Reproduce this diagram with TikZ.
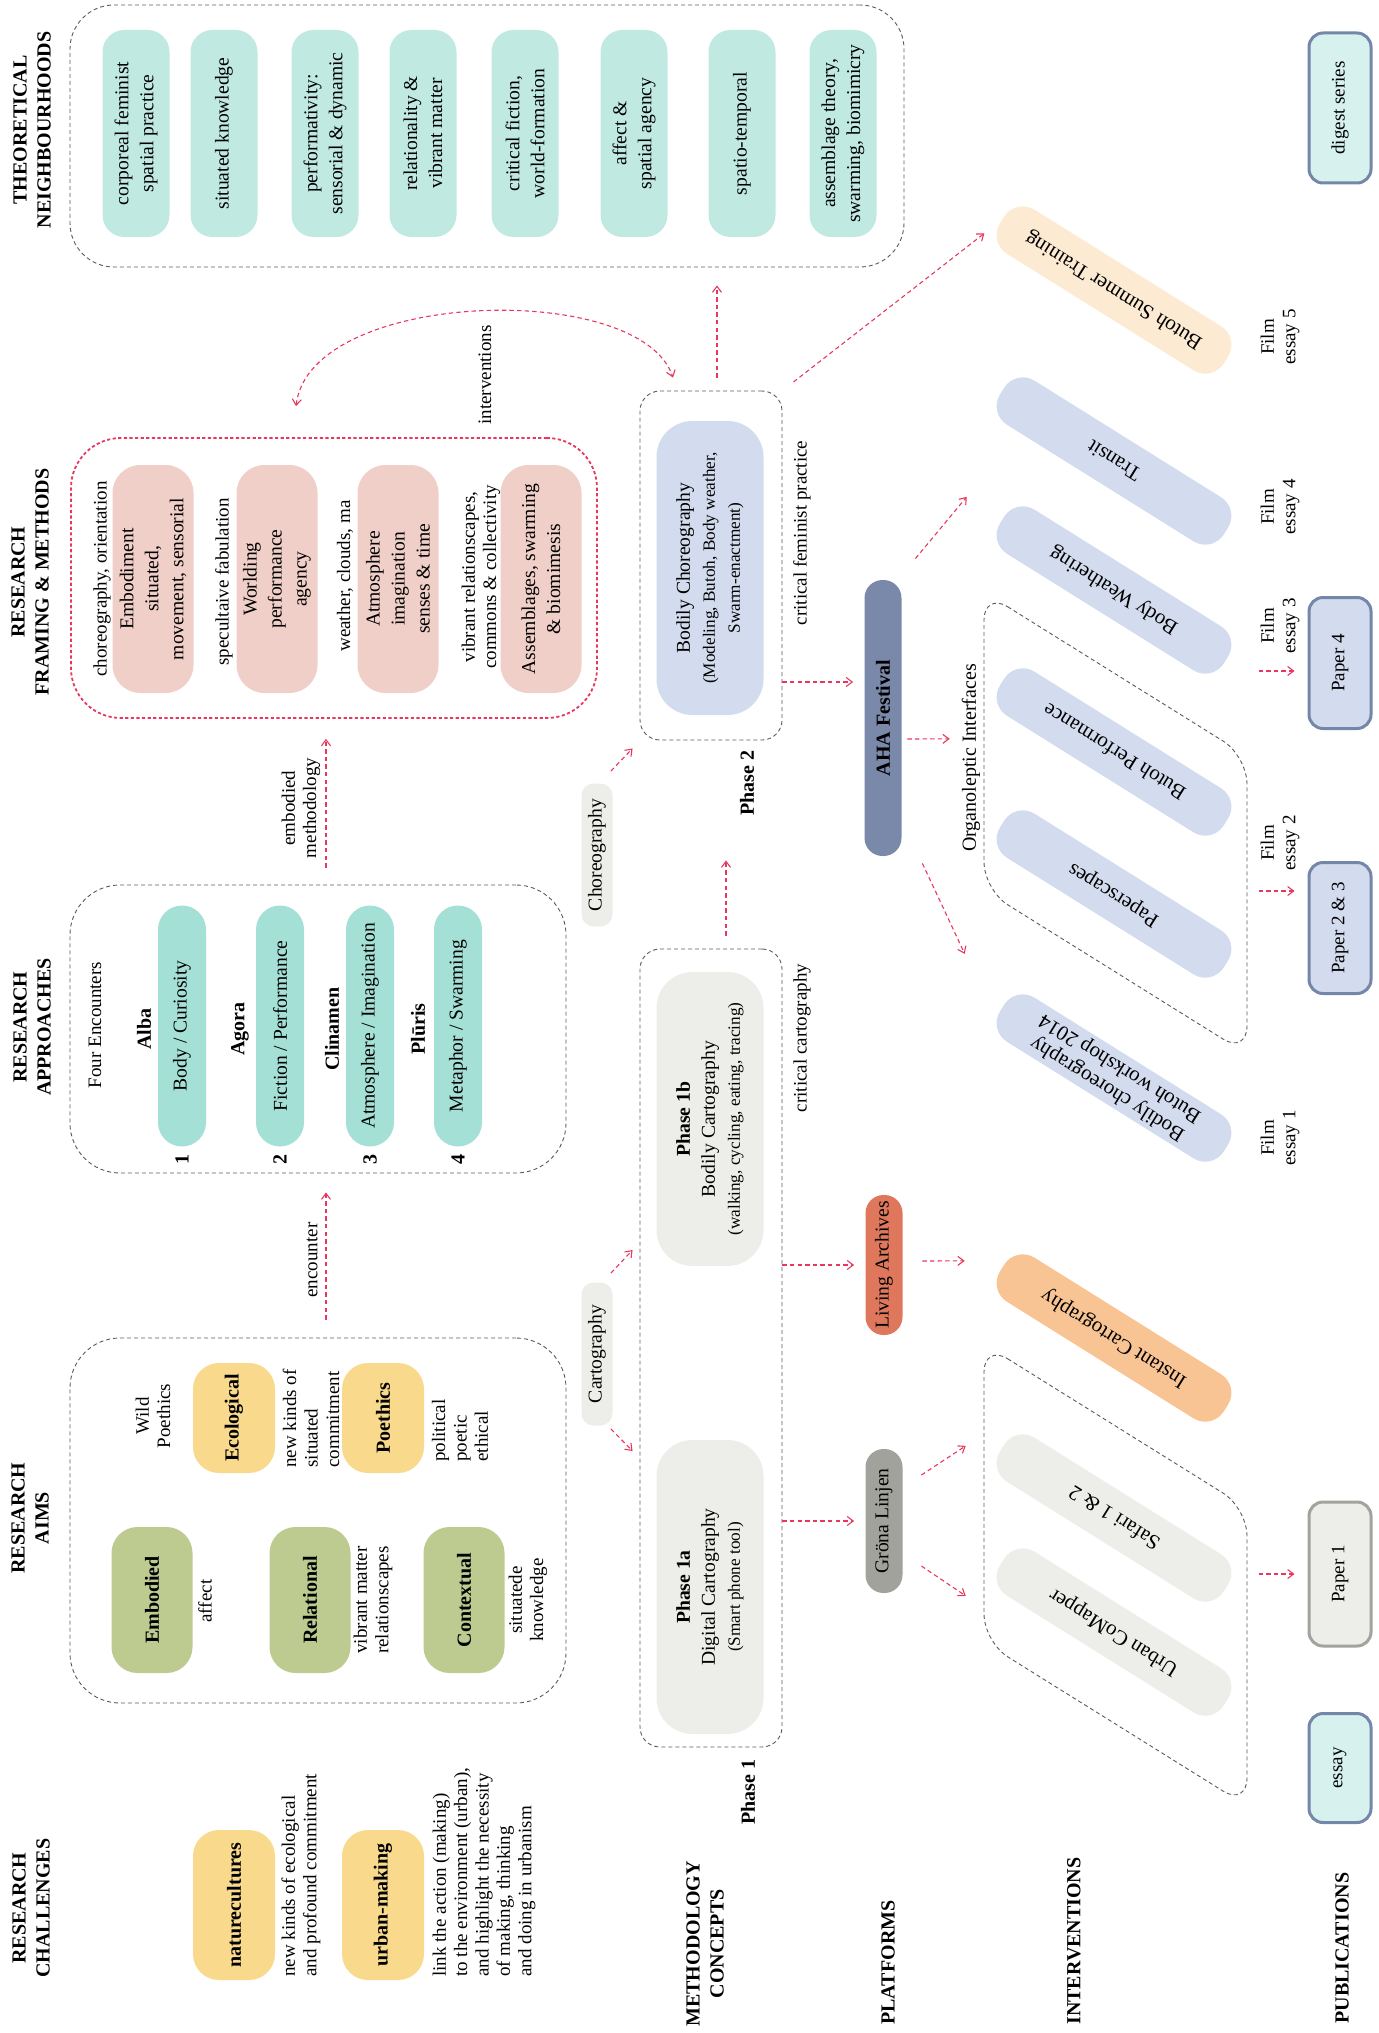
\documentclass[tikz,border=0pt]{standalone}
\usepackage{fontspec}
\setmainfont{Liberation Serif}
\usepackage{xcolor}
\usepackage{tikz}
\usetikzlibrary{arrows.meta}

\definecolor{yellowc}{HTML}{F9D98C}
\definecolor{greenc}{HTML}{BDCB91}
\definecolor{tealc}{HTML}{A5E0D6}
\definecolor{theoc}{HTML}{C0E9E2}
\definecolor{pinkc}{HTML}{F0CFC8}
\definecolor{greyc}{HTML}{EDEDE9}
\definecolor{bluec}{HTML}{D3DCEE}
\definecolor{ahac}{HTML}{7A88AA}
\definecolor{livc}{HTML}{DE775B}
\definecolor{gronac}{HTML}{A0A29B}
\definecolor{peachc}{HTML}{FCEAD3}
\definecolor{orangec}{HTML}{F9C494}
\definecolor{cyanc}{HTML}{D6F1EE}
\definecolor{pubblue}{HTML}{7587A8}
\definecolor{pubgrey}{HTML}{A2A39D}
\definecolor{arrowred}{HTML}{E8375F}
\definecolor{boxgrey}{HTML}{5A5A5A}

\newcommand{\txtfont}{\fontsize{9.5}{10.7}\selectfont}
\newcommand{\hdfont}{\fontsize{10}{12}\selectfont\bfseries}
\newcommand{\pilfont}{\fontsize{9.8}{12.5}\selectfont}
\newcommand{\subfont}{\fontsize{8.6}{11}\selectfont}
\newcommand{\intfont}{\fontsize{10.5}{12}\selectfont}

\tikzset{
  >={Straight Barb[length=3pt,width=4.5pt]},
  header/.style={rotate=90, font=\hdfont, align=center, inner sep=0pt},
  note/.style={rotate=90, font=\txtfont, align=center, inner sep=0pt},
  leftnote/.style={note, align=left, anchor=west},
  pillbase/.style={rotate=90, align=center, inner sep=1pt},
  challpill/.style={pillbase, fill=yellowc, rounded corners=13pt, minimum width=75pt, minimum height=41pt, font=\hdfont},
  aimpill/.style={pillbase, fill=greenc, rounded corners=13pt, minimum width=73pt, minimum height=40.5pt, font=\hdfont},
  wildpill/.style={pillbase, fill=yellowc, rounded corners=13pt, minimum width=55pt, minimum height=41pt, font=\hdfont},
  apppill/.style={pillbase, fill=tealc, rounded corners=12pt, minimum width=120.5pt, minimum height=24pt, font=\pilfont},
  framepill/.style={pillbase, fill=pinkc, rounded corners=14pt, minimum width=114pt, minimum height=40.5pt, font=\pilfont},
  theopill/.style={pillbase, fill=theoc, rounded corners=11pt, minimum width=103.5pt, minimum height=33.5pt, font=\pilfont},
  phasepill/.style={pillbase, fill=#1, rounded corners=18pt, minimum width=147pt, minimum height=53.5pt, font=\pilfont},
  conceptpill/.style={pillbase, fill=greyc, rounded corners=6pt, minimum width=71.5pt, minimum height=15.5pt, font=\pilfont},
  platpill/.style={pillbase, fill=#1, rounded corners=9pt, minimum height=18.5pt, font=\pilfont},
  intpill/.style={rotate=148, fill=#1, rounded corners=11pt, minimum width=132pt, minimum height=26pt, align=center, inner sep=1pt, font=\intfont},
  pubbox/.style={pillbase, rounded corners=7pt, minimum height=31pt, line width=1.5pt, font=\txtfont},
  groupbox/.style={draw=boxgrey, dash pattern=on 2pt off 1.5pt, line width=0.45pt},
  redbox/.style={draw=arrowred, dash pattern=on 1.6pt off 1.2pt, line width=0.9pt},
  flow/.style={draw=arrowred, dash pattern=on 2.2pt off 1.6pt, line width=0.55pt, ->},
}

\begin{document}
\begin{tikzpicture}[x=0.5pt, y=-0.5pt]
  \useasboundingbox (0,0) rectangle (1378,2033);

  \node[groupbox, rounded corners=22pt, minimum width=417pt, minimum height=131pt] at (487, 136) (thbox) {};
  \node[redbox, rounded corners=25pt, minimum width=263pt, minimum height=140pt] at (334, 578) (framebox) {};
  \node[groupbox, rounded corners=25pt, minimum width=248pt, minimum height=144pt] at (318, 1029) (approbox) {};
  \node[groupbox, rounded corners=25pt, minimum width=248pt, minimum height=182.5pt] at (318, 1520.5) (aimsbox) {};
  \node[groupbox, rounded corners=10pt, minimum width=71pt, minimum height=174.5pt] at (711, 565.5) (ph2box) {};
  \node[groupbox, rounded corners=10pt, minimum width=71pt, minimum height=399pt] at (711, 1348) (ph1box) {};
  \draw[groupbox, rounded corners=14pt] (984, 592) -- (1247, 756) -- (1247, 1054) -- (984, 890) -- cycle;
  \draw[groupbox, rounded corners=14pt] (984, 1344) -- (1247, 1508) -- (1247, 1806) -- (984, 1642) -- cycle;

  \node[header] at (32, 130) (hdtheo) {THEORETICAL\\NEIGHBOURHOODS};
  \node[header] at (30, 582) (hdframe) {RESEARCH\\FRAMING \& METHODS};
  \node[header] at (32, 1027) (hdappr) {RESEARCH\\APPROACHES};
  \node[header] at (30, 1518) (hdaims) {RESEARCH\\AIMS};
  \node[header] at (31, 1908) (hdchall) {RESEARCH\\CHALLENGES};
  \node[header, anchor=west] at (705, 2027) (hdmeth) {METHODOLOGY\\CONCEPTS};
  \node[header, anchor=west] at (888, 2025) (hdplat) {PLATFORMS};
  \node[header, anchor=west] at (1074, 2025) (hdint) {INTERVENTIONS};
  \node[header, anchor=west] at (1342, 2024) (hdpub) {PUBLICATIONS};

  \node[theopill] at (136, 133.5) (th1) {corporeal feminist\\spatial practice};
  \node[theopill] at (224, 133.5) (th2) {situated knowledge};
  \node[theopill] at (325, 133.5) (th3) {performativity:\\sensorial \& dynamic};
  \node[theopill] at (423, 133.5) (th4) {relationality \&\\vibrant matter};
  \node[theopill] at (525, 133.5) (th5) {critical fiction,\\world-formation};
  \node[theopill] at (634, 133.5) (th6) {affect \&\\spatial agency};
  \node[theopill] at (742, 133.5) (th7) {spatio-temporal};
  \node[theopill] at (843, 133.5) (th8) {assemblage theory,\\swarming, biomimicry};

  \node[note] at (102, 579) (frn1) {choreography, orientation};
  \node[framepill] at (153, 579) (fr1) {Embodiment\\situated,\\movement, sensorial};
  \node[note] at (224, 582) (frn2) {specultaive fabulation};
  \node[framepill] at (277, 579) (fr2) {Worlding\\performance\\agency};
  \node[note] at (345, 576) (frn3) {weather, clouds, ma};
  \node[framepill] at (398, 579) (fr3) {Atmosphere\\imagination\\senses \& time};
  \node[note] at (481, 577) (frn4) {vibrant relationscapes,\\commons \& collectivity};
  \node[framepill] at (541, 579) (fr4) {Assemblages, swarming\\\& biomimesis};

  \node[note] at (95, 1025) (four) {Four Encounters};
  \node[note, font=\hdfont] at (144, 1029) (alba) {Alba};
  \node[apppill] at (182, 1026) (ap1) {Body / Curiosity};
  \node[note, font=\hdfont] at (182, 1159) (num1) {1};
  \node[note, font=\hdfont] at (240, 1029) (agora) {Agora};
  \node[apppill] at (280, 1026) (ap2) {Fiction / Performance};
  \node[note, font=\hdfont] at (280, 1159) (num2) {2};
  \node[note, font=\hdfont] at (332, 1029) (clin) {Clinamen};
  \node[apppill] at (370, 1026) (ap3) {Atmosphere / Imagination};
  \node[note, font=\hdfont] at (370, 1159) (num3) {3};
  \node[note, font=\hdfont] at (418, 1029) (pluris) {Plūris};
  \node[apppill] at (458, 1026) (ap4) {Metaphor / Swarming};
  \node[note, font=\hdfont] at (458, 1159) (num4) {4};

  \node[note] at (153, 1416) (wild) {Wild\\Poethics};
  \node[wildpill] at (234, 1418) (ecol) {Ecological};
  \node[leftnote] at (311, 1468) (ecoln) {new kinds of\\situated\\commitment};
  \node[wildpill] at (383, 1418) (poeth) {Poethics};
  \node[leftnote] at (460, 1462) (poethn) {political\\poetic\\ethical};
  \node[aimpill] at (152, 1600) (embod) {Embodied};
  \node[note] at (205, 1601) (affect) {affect};
  \node[aimpill] at (310, 1600) (relat) {Relational};
  \node[note] at (373, 1600) (relatn) {vibrant matter\\relationscapes};
  \node[aimpill] at (464, 1600) (context) {Contextual};
  \node[note] at (528, 1600) (contextn) {situatede\\knowledge};

  \node[challpill] at (234, 1905) (natc) {naturecultures};
  \node[leftnote] at (301, 1977) (natcn) {new kinds of ecological\\and profound commitment};
  \node[challpill] at (383, 1905) (urban) {urban-making};
  \node[leftnote] at (484, 1977) (urbann) {link the action (making)\\to the environment (urban),\\and highlight the necessity\\of making, thinking\\and doing in urbanism};

  \node[note] at (312, 1260) (encl) {encounter};
  \node[note] at (301, 808) (embl) {embodied\\methodology};
  \node[note] at (485, 375) (intl) {interventions};

  \node[phasepill=bluec] at (710, 568) (bodchor) {Bodily Choreography\\{\subfont(Modeling, Butoh, Body weather,}\\{\subfont Swarm-enactment)}};
  \node[note] at (802, 533) (cfp) {critical feminist practice};
  \node[note, font=\hdfont] at (747, 783) (ph2lab) {Phase 2};
  \node[conceptpill] at (597, 855) (chor) {Choreography};
  \node[phasepill=greyc] at (710, 1119) (ph1b) {\textbf{Phase 1b}\\Bodily Cartography\\{\subfont(walking, cycling, eating, tracing)}};
  \node[phasepill=greyc] at (710, 1587) (ph1a) {\textbf{Phase 1a}\\Digital Cartography\\{\subfont(Smart phone tool)}};
  \node[note] at (802, 1038) (ccart) {critical cartography};
  \node[conceptpill] at (597, 1354) (cart) {Cartography};
  \node[note, font=\hdfont] at (748, 1792) (ph1lab) {Phase 1};

  \node[platpill=ahac, minimum width=138pt, font=\hdfont] at (883, 718) (aha) {AHA Festival};
  \node[platpill=livc, minimum width=70pt] at (884, 1265) (livarch) {Living Archives};
  \node[platpill=gronac, minimum width=72pt] at (884, 1521) (grona) {Gröna Linjen};

  \node[intpill=peachc] at (1114, 290) (bst) {Butoh Summer Training};
  \node[intpill=bluec] at (1114, 461) (transit) {Transit};
  \node[intpill=bluec] at (1114, 590) (bodyw) {Body Weathering};
  \node[intpill=bluec] at (1114, 752) (butohp) {Butoh Performance};
  \node[intpill=bluec] at (1114, 894) (papers) {Paperscapes};
  \node[intpill=bluec] at (1114, 1078) (bodchw) {Bodily choreography\\Butoh workshop 2014};
  \node[intpill=orangec] at (1114, 1338) (instc) {Instant Cartography};
  \node[intpill=greyc] at (1114, 1518) (safari) {Safari 1 \& 2};
  \node[intpill=greyc] at (1114, 1632) (urbanc) {Urban CoMapper};
  \node[note, font=\fontsize{10}{12}\selectfont] at (971, 758) (orglab) {Organoleptic Interfaces};

  \node[note] at (1280, 337) (film5) {Film\\essay 5};
  \node[note] at (1280, 507) (film4) {Film\\essay 4};
  \node[note] at (1280, 626) (film3) {Film\\essay 3};
  \node[note] at (1280, 843) (film2) {Film\\essay 2};
  \node[note] at (1280, 1138) (film1) {Film\\essay 1};

  \node[pubbox, fill=cyanc, draw=pubblue, minimum width=75pt] at (1340, 108) (digest) {digest series};
  \node[pubbox, fill=bluec, draw=pubblue, minimum width=65.5pt] at (1340, 663) (paper4) {Paper 4};
  \node[pubbox, fill=bluec, draw=pubblue, minimum width=65.5pt] at (1340, 928) (paper23) {Paper 2 \& 3};
  \node[pubbox, fill=greyc, draw=pubgrey, minimum width=72pt] at (1340, 1574) (paper1) {Paper 1};
  \node[pubbox, fill=cyanc, draw=pubblue, minimum width=54.5pt] at (1340, 1768) (essay) {essay};

  \draw[flow, shorten <=9pt, shorten >=9.5pt] ([xshift=4pt]aimsbox.north) -- ([xshift=4pt]approbox.south);
  \draw[flow, shorten <=8.5pt, shorten >=10pt] ([xshift=4pt]approbox.north) -- ([xshift=4pt]approbox.north |- framebox.south);
  \draw[flow, <->] ([shift={(-38,-31)}]framebox.north) .. controls +(14,-117) and +(-33,-98) .. ([shift={(-38,-13)}]ph2box.north);
  \draw[flow, shorten <=6.5pt, shorten >=9pt] ([xshift=3pt]ph2box.north) -- ([xshift=3pt]ph2box.north |- thbox.south);
  \draw[flow, shorten <=7pt, shorten >=11pt] (ph2box.north east) -- (bst.east);
  \draw[flow] ([shift={(-2,-12)}]chor.south east) -- ([shift={(-7,8)}]ph2box.south west);
  \draw[flow, shorten <=6.5pt, shorten >=60pt] ([xshift=7.5pt]ph1box.north) -- ([xshift=7.5pt]ph2box.south);
  \draw[flow] ([shift={(-2,-9)}]cart.south east) -- ([shift={(-7,-98)}]ph1box.west);
  \draw[flow] ([shift={(-2,3)}]cart.south west) -- ([shift={(-7,103)}]ph1box.west);
  \draw[flow, shorten >=5.5pt] (ph1box.east |- livarch) -- (livarch.north);
  \draw[flow, shorten >=5.5pt] (ph1box.east |- grona) -- (grona.north);
  \draw[flow, shorten >=5.5pt] ([shift={(0,-36)}]ph2box.east |- aha) -- ([shift={(0,-36)}]aha.north);
  \draw[flow] ([shift={(5.5,21)}]aha.south) -- ([shift={(-52,57)}]butohp.east);
  \draw[flow] ([shift={(13.5,-21)}]aha.south east) -- ([shift={(-35,-23)}]bodyw.east);
  \draw[flow] ([shift={(20.5,7)}]aha.south west) -- ([shift={(-37,-54)}]bodchw.east);
  \draw[flow] ([shift={(19.5,-4)}]livarch.south) -- ([shift={(-37,-7)}]instc.east);
  \draw[flow] ([shift={(18.5,-46)}]grona.south) -- ([shift={(-36,-2)}]safari.east);
  \draw[flow] ([shift={(18.5,45)}]grona.south) -- ([shift={(-36,34)}]urbanc.east);
  \draw[flow] ([shift={(-49,8)}]paper4.north) -- ([shift={(-13,8)}]paper4.north);
  \draw[flow] ([shift={(-49,-37)}]paper23.north) -- ([shift={(-13,-37)}]paper23.north);
  \draw[flow] ([shift={(-49,0)}]paper1.north) -- ([shift={(-13,0)}]paper1.north);
\end{tikzpicture}
\end{document}
